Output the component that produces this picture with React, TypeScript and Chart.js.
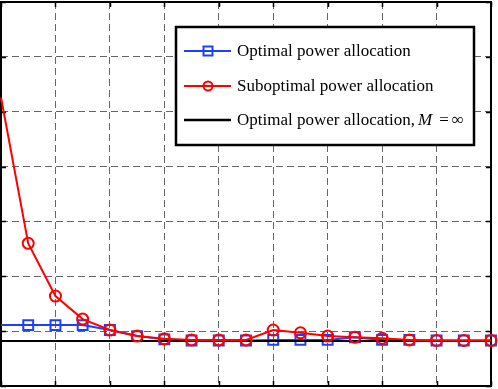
import { useEffect, useRef } from 'react';
import { Chart, registerables } from 'chart.js';
Chart.register(...registerables);

const xValues = [0, 1, 2, 3, 4, 5, 6, 7, 8, 9, 10, 11, 12, 13, 14, 15, 16, 17, 18];
const optimalValues = [1.11, 1.11, 1.11, 1.11, 1.02, 0.91, 0.85, 0.83, 0.83, 0.83, 0.84, 0.84, 0.84, 0.89, 0.84, 0.84, 0.83, 0.83, 0.83];
const suboptimalValues = [5.26, 2.6, 1.64, 1.22, 1.02, 0.91, 0.86, 0.84, 0.84, 0.84, 1.02, 0.97, 0.91, 0.89, 0.87, 0.84, 0.83, 0.83, 0.83];
const limitX = [0, 18];
const limitValues = [0.82, 0.82];
const legendLabels = ['Optimal power allocation', 'Suboptimal power allocation', 'Optimal power allocation,'];

export default function App() {
  const ref = useRef<HTMLCanvasElement>(null);
  useEffect(() => {
    document.body.style.margin = '0';
    const canvas = ref.current!;
    const framePlugin = {
      id: 'frame',
      beforeDatasetsDraw(chart: any) {
        const { ctx, chartArea: a } = chart;
        const xs = chart.scales.x, ys = chart.scales.y;
        ctx.save();
        ctx.strokeStyle = '#000';
        ctx.lineWidth = 1.5;
        ctx.beginPath();
        for (const t of xs.ticks) {
          const px = Math.round(xs.getPixelForValue(t.value)) + 0.5;
          ctx.moveTo(px, a.top); ctx.lineTo(px, a.top + 5);
          ctx.moveTo(px, a.bottom); ctx.lineTo(px, a.bottom - 5);
        }
        for (const t of ys.ticks) {
          const py = Math.round(ys.getPixelForValue(t.value)) + 0.5;
          ctx.moveTo(a.left, py); ctx.lineTo(a.left + 5, py);
          ctx.moveTo(a.right, py); ctx.lineTo(a.right - 5, py);
        }
        ctx.stroke();
        ctx.lineWidth = 2;
        ctx.strokeRect(a.left, a.top, a.right - a.left, a.bottom - a.top);
        ctx.restore();
      },
      afterDraw(chart: any) {
        const { ctx } = chart;
        ctx.save();
        const bx = 176, by = 27, bw = 298, bh = 118;
        ctx.fillStyle = '#fff';
        ctx.fillRect(bx, by, bw, bh);
        ctx.strokeStyle = '#000';
        ctx.lineWidth = 2.5;
        ctx.strokeRect(bx, by, bw, bh);
        const rows = [51, 86, 120];
        const colors = ['#1f3fff', '#ff0000', '#000000'];
        for (let i = 0; i < 3; i++) {
          const y = rows[i];
          ctx.strokeStyle = colors[i];
          ctx.lineWidth = i === 2 ? 2.5 : 2;
          ctx.beginPath();
          ctx.moveTo(184, y); ctx.lineTo(231, y);
          ctx.stroke();
          ctx.lineWidth = 2;
          if (i === 0) {
            ctx.strokeRect(203.5, y - 4.5, 9, 9);
          } else if (i === 1) {
            ctx.beginPath();
            ctx.arc(208, y, 4.5, 0, Math.PI * 2);
            ctx.stroke();
          }
          ctx.fillStyle = '#000';
          ctx.textBaseline = 'middle';
          ctx.font = '17px "Liberation Serif"';
          ctx.fillText(legendLabels[i], 237, y + 1);
          if (i === 2) {
            let x = 237 + ctx.measureText(legendLabels[i]).width + 3;
            ctx.font = 'italic 17px "Liberation Serif"';
            ctx.fillText('M', x, y + 1);
            x += ctx.measureText('M').width + 7;
            ctx.font = '17px "Liberation Serif"';
            ctx.fillText('=', x, y + 1);
            x += ctx.measureText('=').width + 3;
            ctx.fillText('\u221E', x, y + 1);
          }
        }
        ctx.restore();
      },
    };
    const hideFirst = (r: number) => (c: any) => (c.dataIndex === 0 ? 0 : r);
    const chart = new Chart(canvas, {
      type: 'line',
      data: {
        datasets: [
          {
            label: legendLabels[0],
            data: xValues.map((x, i) => ({ x, y: optimalValues[i] })),
            borderColor: '#1f3fff',
            backgroundColor: 'transparent',
            borderWidth: 2,
            pointStyle: 'rect',
            pointRadius: hideFirst(7),
            pointBorderWidth: 2,
            pointBorderColor: '#1f3fff',
            pointBackgroundColor: 'transparent',
            order: 3,
            clip: false,
          },
          {
            label: 'limit',
            data: limitX.map((x, i) => ({ x, y: limitValues[i] })),
            borderColor: '#000',
            borderWidth: 2,
            pointRadius: 0,
            order: 2,
          },
          {
            label: legendLabels[1],
            data: xValues.map((x, i) => ({ x, y: suboptimalValues[i] })),
            borderColor: '#ff0000',
            backgroundColor: 'transparent',
            borderWidth: 2,
            pointStyle: 'circle',
            pointRadius: hideFirst(5.5),
            pointBorderWidth: 2,
            pointBorderColor: '#ff0000',
            pointBackgroundColor: 'transparent',
            order: 1,
            clip: false,
          },
        ],
      },
      options: {
        animation: false,
        responsive: false,
        events: [],
        layout: { autoPadding: false, padding: { left: 1, right: 7, top: 2, bottom: 3 } },
        plugins: { legend: { display: false }, tooltip: { enabled: false } },
        scales: {
          x: {
            type: 'linear',
            min: 0,
            max: 18,
            ticks: { display: false, stepSize: 2 },
            grid: { color: '#666', lineWidth: 1, drawTicks: false },
            border: { display: false, dash: [7, 4] },
          },
          y: {
            type: 'linear',
            min: 0,
            max: 7,
            ticks: { display: false, stepSize: 1 },
            grid: { color: '#666', lineWidth: 1, drawTicks: false },
            border: { display: false, dash: [7, 4] },
          },
        },
      },
      plugins: [framePlugin],
    });
    return () => chart.destroy();
  }, []);
  return (
    <div style={{ position: 'absolute', left: 0, top: 0, width: 498, height: 389 }}>
      <canvas ref={ref} width={498} height={389} />
    </div>
  );
}
